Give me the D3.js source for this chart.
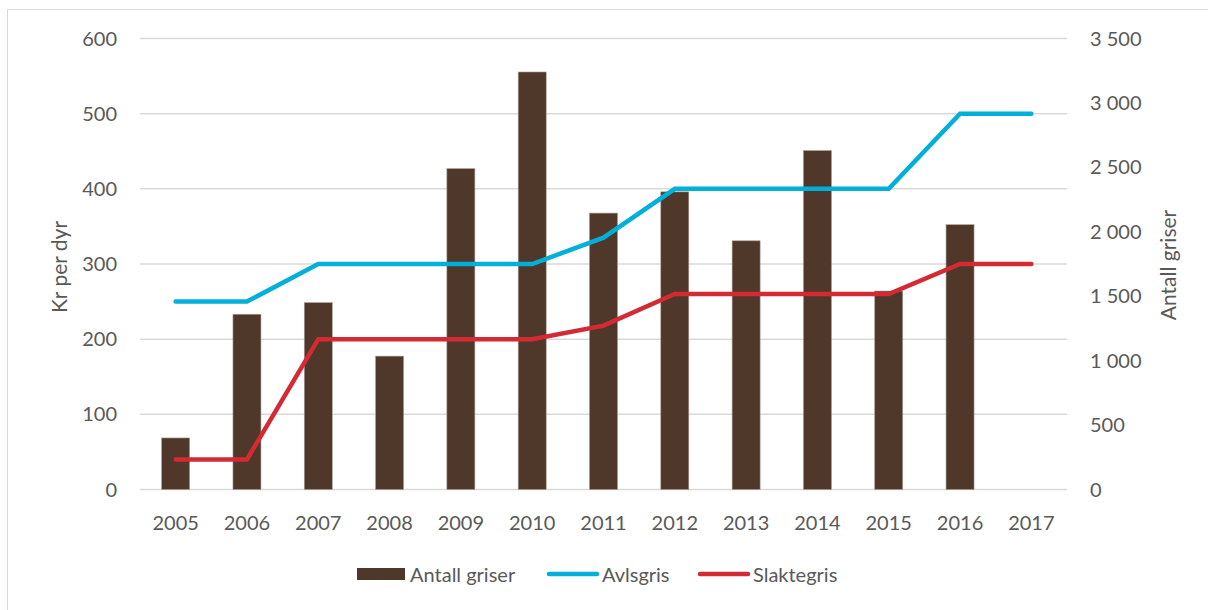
<!DOCTYPE html>
<html>
<head>
<meta charset="utf-8">
<script src="https://cdn.jsdelivr.net/npm/d3@7"></script>
<style>
  body { margin: 0; background: #fff; }
  text { font-family: Lato, "Open Sans", sans-serif; fill: #595959; }
</style>
</head>
<body>
<script>
// data
var years = ["2005","2006","2007","2008","2009","2010","2011","2012","2013","2014","2015","2016","2017"];
var antallGriser = [400, 1360, 1450, 1035, 2490, 3240, 2145, 2310, 1930, 2630, 1540, 2055, null];
var avlsgris = [250, 250, 300, 300, 300, 300, 335, 400, 400, 400, 400, 500, 500];
var slaktegris = [40, 40, 200, 200, 200, 200, 218, 260, 260, 260, 260, 300, 300];
var leftTicks = [0, 100, 200, 300, 400, 500, 600];
var rightTicks = [0, 500, 1000, 1500, 2000, 2500, 3000, 3500];

var W = 1208, H = 610;
var plotLeft = 140, plotRight = 1067, plotTop = 38.5, plotBottom = 489.5;

var svg = d3.select("body").append("svg")
    .attr("width", W)
    .attr("height", H);

// chart border
svg.append("rect")
    .attr("x", 7.5).attr("y", 9.5)
    .attr("width", W).attr("height", H)
    .attr("fill", "none")
    .attr("stroke", "#d9d9d9")
    .attr("stroke-width", 1);

var band = d3.scaleBand().domain(years).range([plotLeft, plotRight]);
var yL = d3.scaleLinear().domain([0, 600]).range([plotBottom, plotTop]);
var yR = d3.scaleLinear().domain([0, 3500]).range([plotBottom, plotTop]);

// gridlines
svg.append("g").selectAll("line")
    .data(leftTicks)
    .join("line")
    .attr("x1", plotLeft).attr("x2", plotRight)
    .attr("y1", d => yL(d))
    .attr("y2", d => yL(d))
    .attr("stroke", "#d9d9d9")
    .attr("stroke-width", 1.5);

// left axis labels
svg.append("g").selectAll("text")
    .data(leftTicks)
    .join("text")
    .attr("x", 117)
    .attr("y", d => yL(d) + 7)
    .attr("text-anchor", "end")
    .style("font-size", "20px")
    .text(d => d);

// right axis labels
svg.append("g").selectAll("text")
    .data(rightTicks)
    .join("text")
    .attr("x", 1090)
    .attr("y", d => yR(d) + 7)
    .attr("text-anchor", "start")
    .style("font-size", "20px")
    .text(d => d >= 1000 ? Math.floor(d / 1000) + " " + d3.format("03")(d % 1000) : d);

// x labels
svg.append("g").selectAll("text")
    .data(years)
    .join("text")
    .attr("x", d => band(d) + band.bandwidth() / 2)
    .attr("y", 530)
    .attr("text-anchor", "middle")
    .style("font-size", "20px")
    .text(d => d);

// axis titles
svg.append("text")
    .attr("transform", "translate(67,267) rotate(-90)")
    .attr("text-anchor", "middle")
    .style("font-size", "21px")
    .text("Kr per dyr");

svg.append("text")
    .attr("transform", "translate(1176,265) rotate(-90)")
    .attr("text-anchor", "middle")
    .style("font-size", "21px")
    .text("Antall griser");

// bars
var bw = 28;
svg.append("g").selectAll("rect")
    .data(years.map((y, i) => ({ year: y, v: antallGriser[i] })).filter(d => d.v != null))
    .join("rect")
    .attr("x", d => band(d.year) + band.bandwidth() / 2 - bw / 2)
    .attr("y", d => yR(d.v))
    .attr("width", bw)
    .attr("height", d => plotBottom - yR(d.v))
    .attr("fill", "#4f372a")
    .attr("stroke", "#a89a92")
    .attr("stroke-width", 0.6);

// lines
var line = d3.line()
    .x((d, i) => band(years[i]) + band.bandwidth() / 2)
    .y(d => yL(d));

svg.append("path")
    .datum(avlsgris)
    .attr("d", line)
    .attr("fill", "none")
    .attr("stroke", "#00b0d8")
    .attr("stroke-width", 4.5)
    .attr("stroke-linecap", "round");

svg.append("path")
    .datum(slaktegris)
    .attr("d", line)
    .attr("fill", "none")
    .attr("stroke", "#d42a33")
    .attr("stroke-width", 4.5)
    .attr("stroke-linecap", "round");

// legend
var lg = svg.append("g");
lg.append("rect")
    .attr("x", 357).attr("y", 568)
    .attr("width", 48).attr("height", 12)
    .attr("fill", "#4f372a");
lg.append("text").attr("x", 410).attr("y", 582).style("font-size", "20px").text("Antall griser");

lg.append("line")
    .attr("x1", 549).attr("x2", 597).attr("y1", 574).attr("y2", 574)
    .attr("stroke", "#00b0d8").attr("stroke-width", 4.5).attr("stroke-linecap", "round");
lg.append("text").attr("x", 602).attr("y", 582).style("font-size", "20px").text("Avlsgris");

lg.append("line")
    .attr("x1", 700).attr("x2", 748).attr("y1", 574).attr("y2", 574)
    .attr("stroke", "#d42a33").attr("stroke-width", 4.5).attr("stroke-linecap", "round");
lg.append("text").attr("x", 753).attr("y", 582).style("font-size", "20px").text("Slaktegris");
</script>
</body>
</html>
